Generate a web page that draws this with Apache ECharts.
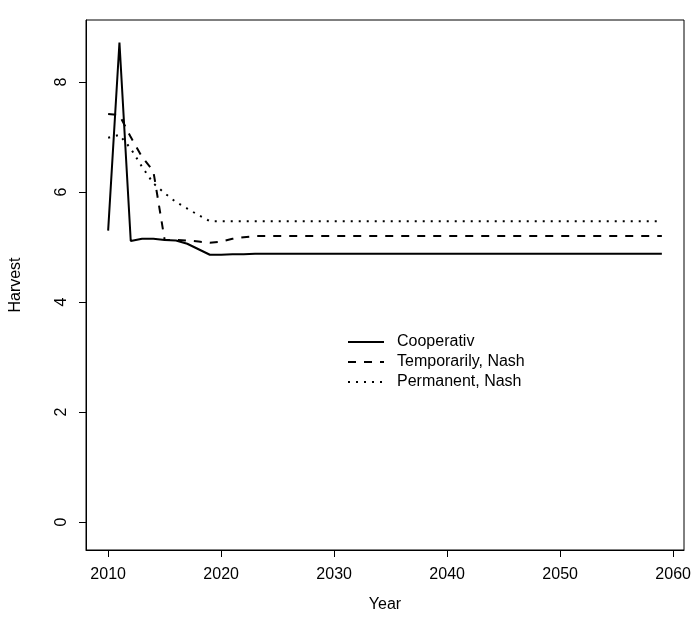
<!DOCTYPE html>
<html>
<head>
<meta charset="utf-8">
<script src="https://cdn.jsdelivr.net/npm/echarts@6/dist/echarts.min.js"></script>
<style>html,body{margin:0;padding:0;background:#fff}#c{width:695px;height:625px}</style>
</head>
<body>
<div id="c"></div>
<script>
const years = [];
for (let y = 2010; y <= 2059; y++) years.push(y);

const coopHead = [5.30, 8.72, 5.11, 5.15, 5.15, 5.13, 5.12, 5.06, 4.96, 4.86, 4.86, 4.87, 4.87, 4.88];
const tempHead = [7.42, 7.40, 7.00, 6.64, 6.38, 5.13, 5.13, 5.12, 5.10, 5.08, 5.10, 5.15, 5.18, 5.20];
const permHead = [6.99, 7.04, 6.79, 6.46, 6.16, 5.98, 5.82, 5.70, 5.58, 5.47];
const coopTail = 4.88, tempTail = 5.20, permTail = 5.47;

function fill(head, tail) {
  return years.map((y, i) => [y, i < head.length ? head[i] : tail]);
}
const cooperativ = fill(coopHead, coopTail);
const temporarily = fill(tempHead, tempTail);
const permanent = fill(permHead, permTail);

const xTicks = [2010, 2020, 2030, 2040, 2050, 2060];
const yTicks = [0, 2, 4, 6, 8];
const names = ['Cooperativ', 'Temporarily, Nash', 'Permanent, Nash'];

const font = 'Liberation Sans, Arial, Helvetica, sans-serif';
const xMin = 2008.04, xMax = 2060.96;
const yMin = -0.51, yMax = 9.13;
const chart = echarts.init(document.getElementById('c'));
chart.setOption({
  animation: false,
  backgroundColor: '#fff',
  grid: {left: 85, right: 11, top: 20, bottom: 75, show: true, borderColor: '#000'},
  xAxis: {
    type: 'value', min: xMin, max: xMax,
    name: 'Year', nameLocation: 'middle', nameGap: 47,
    nameTextStyle: {fontFamily: font, fontSize: 16, color: '#000'},
    axisLine: {show: true, onZero: false, lineStyle: {color: '#000', width: 1}},
    splitLine: {show: false},
    axisTick: {show: true, inside: false, length: 7, lineStyle: {color: '#000', width: 1}, customValues: xTicks},
    axisLabel: {customValues: xTicks, formatter: v => String(v), margin: 17, fontFamily: font, fontSize: 16, color: '#000'}
  },
  yAxis: [
    {
      type: 'value', min: yMin, max: yMax,
      axisLine: {show: true, onZero: false, lineStyle: {color: '#000'}},
      axisTick: {show: true, length: 7, customValues: yTicks},
      axisLabel: {customValues: yTicks, color: 'rgba(0,0,0,0)'},
      splitLine: {lineStyle: {color: 'rgba(0,0,0,0)'}}
    },
    {
      type: 'value', min: yMin, max: yMax, position: 'left', offset: 0,
      name: 'Harvest', nameLocation: 'middle', nameGap: 62, nameRotate: 90,
      nameTextStyle: {fontFamily: font, fontSize: 16, color: '#000'},
      axisLine: {show: false, onZero: false},
      splitLine: {show: false},
      axisTick: {show: false},
      axisLabel: {customValues: yTicks, formatter: v => String(v), rotate: 90, margin: 16, fontFamily: font, fontSize: 16, color: '#000'}
    }
  ],
  legend: {
    left: 342, top: 329, orient: 'vertical', itemGap: 4,
    itemWidth: 36, itemHeight: 16,
    itemStyle: {opacity: 0},
    textStyle: {fontFamily: font, fontSize: 16, color: '#000', padding: [0, 0, 0, 8]},
    data: names,
    selectedMode: false
  },
  series: [
    {name: names[0], type: 'line', yAxisIndex: 0, data: cooperativ, symbol: 'none', lineStyle: {color: '#000', width: 2, type: 'solid'}, itemStyle: {color: '#000'}},
    {name: names[1], type: 'line', yAxisIndex: 0, data: temporarily, symbol: 'none', lineStyle: {color: '#000', width: 2, type: [8, 8]}, itemStyle: {color: '#000'}},
    {name: names[2], type: 'line', yAxisIndex: 0, data: permanent, symbol: 'none', lineStyle: {color: '#000', width: 2, type: [2, 6]}, itemStyle: {color: '#000'}},
    {
      type: 'custom', yAxisIndex: 0, silent: true, clip: false, z: 10,
      data: yTicks.map(v => [xMin, v]),
      encode: {x: 0, y: 1},
      renderItem: (params, api) => {
        const p = api.coord([api.value(0), api.value(1)]);
        const y = Math.round(p[1]) + 0.5;
        return {type: 'line', shape: {x1: p[0] - 7, y1: y, x2: p[0], y2: y}, style: {stroke: '#000', lineWidth: 1}};
      }
    }
  ]
});
</script>
</body>
</html>
